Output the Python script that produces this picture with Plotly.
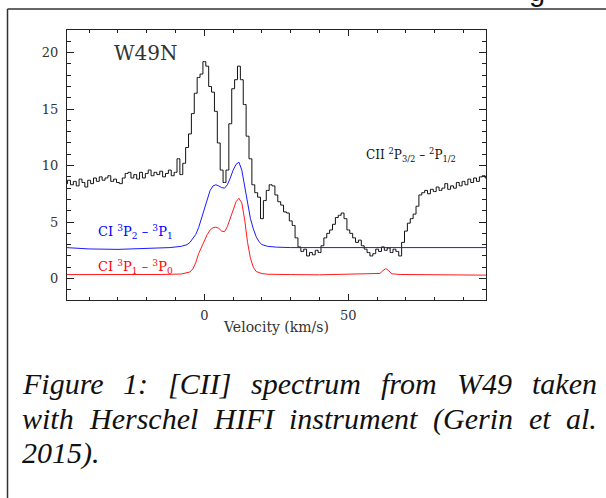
import plotly.graph_objects as go

# ---------------- data ----------------
cii_vel = list(range(-48, 99))
cii_tmb = [
    8.4, 8.7, 8.3, 8.6, 8.2, 8.8, 8.5, 8.1, 8.7, 8.4,      # -48..-39
    8.9, 8.6, 9.0, 8.7, 8.9, 9.1, 8.6, 8.8, 8.5, 8.4,      # -38..-29
    8.9, 9.3, 9.4, 8.9, 9.2, 8.8, 9.4, 8.9, 9.3, 9.6,      # -28..-19
    9.1, 9.4, 9.2, 9.5, 9.0, 9.3, 9.6, 9.1, 9.4, 10.6,     # -18..-9
    9.2, 10.2, 11.6, 12.8, 14.6, 16.4, 17.8, 18.1, 19.2, 18.8,  # -8..1
    17.0, 16.5, 14.8, 12.0, 9.6, 8.5, 9.6, 13.7, 16.8, 17.6,    # 2..11
    18.8, 17.6, 15.4, 12.6, 10.6, 8.3, 7.6, 7.2, 5.3, 6.9,      # 12..21
    7.8, 8.3, 8.2, 7.4, 6.8, 6.5, 5.9, 5.8, 5.1, 4.7,           # 22..31
    3.6, 2.8, 2.4, 2.6, 2.0, 2.3, 2.1, 2.5, 2.3, 2.9,           # 32..41
    3.6, 4.0, 4.3, 4.8, 5.4, 5.6, 5.8, 5.3, 4.3, 4.0,           # 42..51
    3.6, 3.2, 3.4, 2.9, 2.6, 2.3, 2.0, 2.2, 2.6, 2.4,           # 52..61
    2.8, 2.5, 2.7, 2.3, 2.6, 2.4, 2.0, 3.2, 4.2, 4.9,           # 62..71
    5.3, 5.7, 6.4, 7.4, 7.6, 7.8, 7.5, 7.9, 7.7, 8.1,           # 72..81
    7.8, 8.0, 8.4, 7.9, 8.2, 8.0, 8.5, 8.2, 8.6, 8.3,           # 82..91
    8.8, 8.5, 8.9, 8.6, 9.0, 9.1, 8.9,                          # 92..98
]

ci21_vel = [-48, -40, -30, -20, -12, -8, -6, -5, -4, -3, -2, -1, 0, 1, 2, 3, 4, 5,
            6, 7, 8, 9, 10, 11, 12, 13, 14, 15, 16, 17, 18, 19, 20, 22, 25, 30,
            40, 50, 60, 70, 80, 90, 98]
ci21_tmb = [2.74, 2.62, 2.58, 2.66, 2.74, 2.85, 3.0, 3.2, 3.5, 3.9, 4.5, 5.3, 6.2,
            7.1, 7.8, 8.2, 8.3, 8.2, 8.05, 8.0, 8.3, 8.9, 9.6, 10.1, 10.3, 9.6,
            8.1, 6.6, 5.3, 4.4, 3.7, 3.25, 3.0, 2.85, 2.78, 2.74, 2.74, 2.72,
            2.74, 2.75, 2.74, 2.75, 2.74]

ci10_vel = [-48, -30, -15, -8, -6, -5, -4, -3, -2, -1, 0, 1, 2, 3, 4, 5, 6, 7, 8,
            9, 10, 11, 12, 13, 14, 15, 16, 17, 18, 19, 20, 22, 25, 30, 40, 50, 58,
            61, 62, 63, 64, 65, 68, 75, 85, 98]
ci10_tmb = [0.35, 0.32, 0.36, 0.40, 0.48, 0.58, 0.85, 1.4, 2.2, 2.8, 3.4, 3.9,
            4.3, 4.5, 4.55, 4.45, 4.2, 4.15, 4.6, 5.4, 6.2, 6.8, 7.1, 6.7, 5.2,
            3.2, 1.8, 1.0, 0.62, 0.5, 0.44, 0.38, 0.36, 0.35, 0.33, 0.36, 0.38,
            0.45, 0.7, 0.88, 0.7, 0.42, 0.36, 0.34, 0.36, 0.30]

x_range = [-47.7, 97.8]
y_range = [-1.9, 22.0]

caption_lines = [
    ["Figure", "1:", "[CII]", "spectrum", "from", "W49", "taken"],
    ["with", "Herschel", "HIFI", "instrument", "(Gerin", "et", "al."],
    ["2015)."],
]
caption_word_px = [
    [22, 123, 168, 251, 381, 457, 532],
    [22, 89, 213, 289, 433, 529, 566],
    [22],
]
caption_line_py = [384, 419, 453]

# ---------------- figure ----------------
W, H = 606, 498
L, R, T, B = 67, 486, 29.5, 300
pw, ph = R - L, B - T

def px(x):
    return (x - L) / pw

def py(y):
    return (B - y) / ph

LAB = "DejaVu Serif, serif"
SERIF = "Liberation Serif, Times New Roman, serif"
INK = "#222222"

fig = go.Figure()
fig.add_trace(go.Scatter(x=cii_vel, y=cii_tmb, mode="lines", line_shape="hvh",
                         line=dict(color="#111111", width=1), showlegend=False))
fig.add_trace(go.Scatter(x=ci21_vel, y=ci21_tmb, mode="lines",
                         line=dict(color="#1a1aff", width=1), showlegend=False))
fig.add_trace(go.Scatter(x=ci10_vel, y=ci10_tmb, mode="lines",
                         line=dict(color="#ff1a1a", width=1), showlegend=False))

axis_common = dict(showline=True, linecolor=INK, linewidth=1, mirror="allticks",
                   ticks="inside", tickcolor=INK, showgrid=False, zeroline=False,
                   tickfont=dict(family=LAB, size=13, color="#333333"))

fig.update_xaxes(range=x_range, tickmode="linear", tick0=0, dtick=50, ticklen=6,
                 ticklabelstandoff=3,
                 minor=dict(dtick=10, tick0=0, ticks="inside", ticklen=3,
                            tickcolor=INK, showgrid=False),
                 title=dict(text="Velocity (km/s)", standoff=0,
                            font=dict(family=LAB, size=14, color="#333333")),
                 **axis_common)
fig.update_yaxes(range=y_range, tickmode="linear", tick0=0, dtick=5, ticklen=7,
                 ticklabelstandoff=5,
                 minor=dict(dtick=1, tick0=0, ticks="inside", ticklen=4,
                            tickcolor=INK, showgrid=False),
                 **axis_common)

annotations = [
    dict(x=-20.2, y=20.0, xref="x", yref="y", text="W49N", showarrow=False,
         font=dict(family=LAB, size=20, color="#333333"), xanchor="center", yanchor="middle"),
    dict(x=-37.6, y=4.1, xref="x", yref="y",
         text="CI <sup>3</sup>P<sub>2</sub> \u2013 <sup>3</sup>P<sub>1</sub>",
         showarrow=False, font=dict(family=LAB, size=13, color="#0000ff"),
         xanchor="left", yanchor="middle"),
    dict(x=-37.6, y=1.0, xref="x", yref="y",
         text="CI <sup>3</sup>P<sub>1</sub> \u2013 <sup>3</sup>P<sub>0</sub>",
         showarrow=False, font=dict(family=LAB, size=13, color="#ff0000"),
         xanchor="left", yanchor="middle"),
    dict(x=55.5, y=10.9, xref="x", yref="y",
         text="CII <sup>2</sup>P<sub>3/2</sub> \u2013 <sup>2</sup>P<sub>1/2</sub>",
         showarrow=False, font=dict(family=LAB, size=12, color="#111111"),
         xanchor="left", yanchor="middle"),
    dict(x=px(537), y=py(-10), xref="paper", yref="paper", text="g", showarrow=False,
         font=dict(family="Liberation Sans, Arial, sans-serif", size=29, color="#111111"),
         xanchor="center", yanchor="middle"),
]
for words, xs, ypix in zip(caption_lines, caption_word_px, caption_line_py):
    for w, xp in zip(words, xs):
        annotations.append(dict(x=px(xp), y=py(ypix), xref="paper", yref="paper",
                                text="<i>%s</i>" % w, showarrow=False,
                                font=dict(family=SERIF, size=30, color="#111111"),
                                xanchor="left", yanchor="middle", xshift=-2))

shapes = [
    dict(type="line", xref="paper", yref="paper", x0=px(7.5), x1=px(620), y0=py(8.5), y1=py(8.5),
         line=dict(color="#333333", width=1.5)),
    dict(type="line", xref="paper", yref="paper", x0=px(7.5), x1=px(7.5), y0=py(8.5), y1=py(520),
         line=dict(color="#333333", width=1.5)),
]

fig.update_layout(width=W, height=H, autosize=False,
                  margin=dict(l=L, r=W - R, t=T, b=H - B, pad=0),
                  paper_bgcolor="white", plot_bgcolor="white",
                  annotations=annotations, shapes=shapes, showlegend=False)

fig.write_html("out.html", config={"displayModeBar": False},
               post_script="document.body.style.margin='0';document.body.style.overflow='hidden';")
